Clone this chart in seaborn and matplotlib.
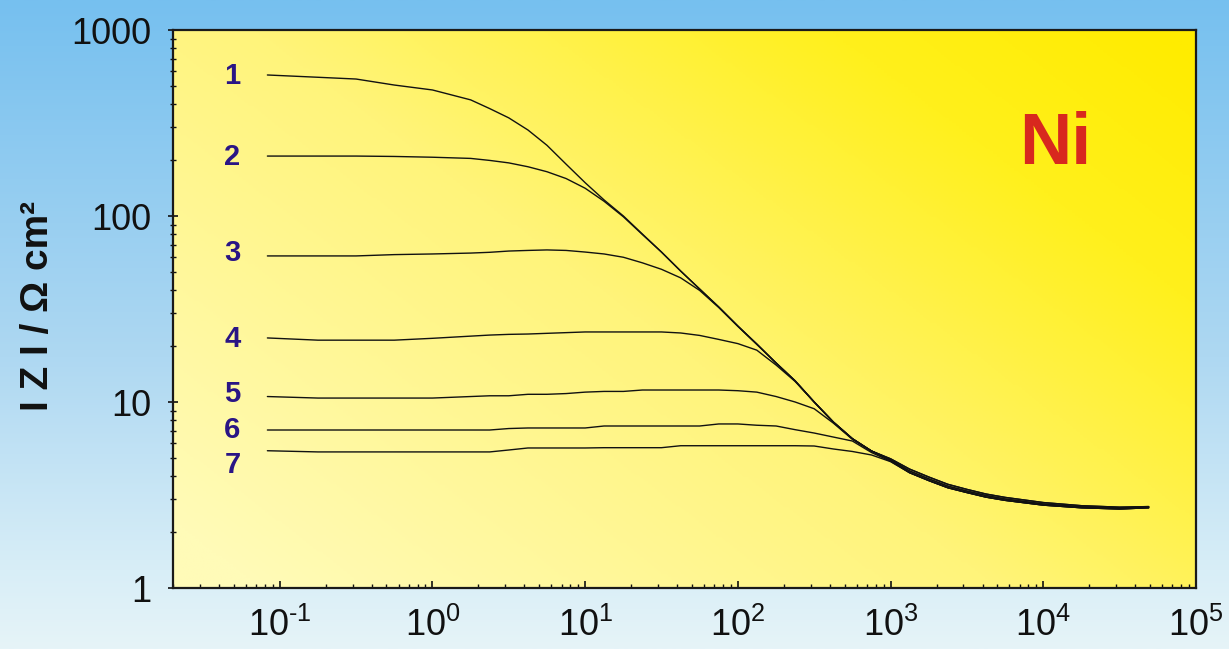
import numpy as np
import pandas as pd
import matplotlib
matplotlib.use("Agg")
import matplotlib.pyplot as plt
import seaborn as sns
from matplotlib.colors import LinearSegmentedColormap

# ---------------- data ----------------
freq = [0.083, 0.178, 0.316, 0.562, 1.0, 1.78, 2.37, 3.16, 4.22, 5.62, 7.50, 10.0,
        13.3, 17.8, 23.7, 31.6, 42.2, 56.2, 75.0, 100, 133, 178, 237, 316, 422, 562, 750,
        1000, 1330, 1780, 2370, 3160, 4220, 5620, 10000, 17800, 31600, 49000]

# high-frequency band (upper edge, centre, lower edge of the merged curves)
tail_hi = [4.36, 3.95, 3.61, 3.39, 3.20, 3.07, 2.88, 2.77, 2.72, 2.74]
tail_mid = [4.26, 3.86, 3.53, 3.32, 3.14, 3.01, 2.83, 2.73, 2.69, 2.72]
tail_lo = [4.17, 3.78, 3.46, 3.26, 3.08, 2.96, 2.79, 2.70, 2.66, 2.70]

z1 = [573, 557, 545, 506, 476, 421, 378, 337, 290, 240, 190, 151, 122, 100, 80, 64,
      50.6, 40.5, 32.4, 25.6, 20.5, 16.2, 13.0, 10.0, 7.8, 6.35, 5.45, 4.95] + tail_hi
z2 = [210, 210, 210, 209, 207, 204, 199, 193, 184, 173, 159, 141, 120, 99, 79.5, 64,
      50.6, 40.5, 32.4, 25.6, 20.5, 16.2, 13.0, 10.0, 7.8, 6.35, 5.45, 4.95] + tail_hi
z3 = [61, 61, 61, 62, 62.5, 63.2, 63.8, 64.8, 65.3, 65.7, 65.3, 64, 62.5, 60, 56, 51.7,
      46.5, 39.8, 32.2, 25.5, 20.4, 16.2, 13.0, 10.0, 7.8, 6.35, 5.45, 4.9] + tail_mid
z4 = [22.1, 21.5, 21.5, 21.5, 22.0, 22.6, 22.9, 23.1, 23.2, 23.4, 23.6, 23.8, 23.8, 23.8,
      23.8, 23.8, 23.5, 22.8, 21.7, 20.6, 19.0, 15.8, 12.9, 10.0, 7.8, 6.35, 5.45, 4.88] + tail_mid
z5 = [10.7, 10.5, 10.5, 10.5, 10.5, 10.7, 10.8, 10.8, 11.0, 11.0, 11.1, 11.3, 11.4, 11.4,
      11.6, 11.6, 11.6, 11.6, 11.6, 11.5, 11.3, 10.7, 10.0, 9.2, 7.7, 6.3, 5.45, 4.85] + tail_lo
z6 = [7.07, 7.07, 7.07, 7.07, 7.07, 7.07, 7.07, 7.2, 7.25, 7.25, 7.25, 7.25, 7.43, 7.43,
      7.43, 7.43, 7.43, 7.43, 7.62, 7.62, 7.5, 7.43, 7.1, 6.81, 6.48, 6.17, 5.35, 4.8] + tail_lo
z7 = [5.47, 5.39, 5.39, 5.39, 5.39, 5.39, 5.39, 5.52, 5.66, 5.66, 5.66, 5.66, 5.68, 5.68,
      5.68, 5.68, 5.82, 5.82, 5.82, 5.82, 5.82, 5.82, 5.82, 5.80, 5.59, 5.42, 5.19, 4.78] + tail_lo

curve_names = ["1", "2", "3", "4", "5", "6", "7"]
curves = [z1, z2, z3, z4, z5, z6, z7]

label_x = 0.049
label_y = [566, 207, 63, 21.8, 11.0, 7.07, 4.6]

x_ticks = [1e-1, 1e0, 1e1, 1e2, 1e3, 1e4, 1e5]
x_tick_labels = ["$\\mathregular{10^{\u20101}}$", r"$\mathregular{10^{0}}$", r"$\mathregular{10^{1}}$",
                 r"$\mathregular{10^{2}}$", r"$\mathregular{10^{3}}$", r"$\mathregular{10^{4}}$",
                 r"$\mathregular{10^{5}}$"]
y_ticks = [1, 10, 100, 1000]
y_tick_labels = ["1", "10", "100", "1000"]

rows = []
for name, zs in zip(curve_names, curves):
    for f, z in zip(freq, zs):
        rows.append({"freq": f, "Z": z, "curve": name})
df = pd.DataFrame(rows)

# ---------------- style ----------------
sns.set_style("ticks")
plt.rcParams["font.family"] = ["Liberation Sans", "DejaVu Sans"]
plt.rcParams["mathtext.fontset"] = "custom"
plt.rcParams["mathtext.rm"] = "Liberation Sans"
plt.rcParams["mathtext.it"] = "Liberation Sans:italic"
plt.rcParams["mathtext.bf"] = "Liberation Sans:bold"

W, H = 1229, 649
fig = plt.figure(figsize=(W / 100, H / 100), dpi=100)

# figure background: sky-blue vertical gradient
bg = fig.add_axes([0, 0, 1, 1], zorder=-3)
sky = LinearSegmentedColormap.from_list(
    "sky", [(0.0, "#e6f4f8"), (0.12, "#d8eef7"), (0.45, "#aed8f2"), (1.0, "#76c0ef")])
grad = np.linspace(0, 1, 256).reshape(-1, 1)
bg.imshow(grad, aspect="auto", cmap=sky, origin="lower", extent=[0, 1, 0, 1])
bg.set_xlim(0, 1)
bg.set_ylim(0, 1)
bg.axis("off")

# axes position
left, right, bottom, top = 173 / W, 1196 / W, 1 - 588 / H, 1 - 30 / H
pos = [left, bottom, right - left, top - bottom]

# yellow diagonal gradient in plot area
yel = fig.add_axes(pos, zorder=-2)
xx, yy = np.meshgrid(np.linspace(0, 1, 300), np.linspace(0, 1, 200))
t = np.clip(0.62 * xx + 0.45 * yy - 0.05, 0, 1)
ycmap = LinearSegmentedColormap.from_list(
    "yel", [(0.0, "#fffbb8"), (0.45, "#fff47a"), (0.8, "#fff01c"), (1.0, "#ffec00")])
yel.imshow(t, aspect="auto", cmap=ycmap, origin="lower", extent=[0, 1, 0, 1], vmin=0, vmax=1)
yel.set_xlim(0, 1)
yel.set_ylim(0, 1)
yel.axis("off")

ax = fig.add_axes(pos, zorder=1)
ax.set_facecolor("none")
ax.set_xscale("log")
ax.set_yscale("log")

sns.lineplot(data=df, x="freq", y="Z", hue="curve", palette=["#111111"] * 7,
             legend=False, linewidth=1.0, estimator=None, sort=False, ax=ax)

ax.set_xlim(0.02, 1e5)
ax.set_ylim(1, 1000)

ax.set_xticks(x_ticks, x_tick_labels)
ax.set_yticks(y_ticks, y_tick_labels)
ax.xaxis.set_minor_locator(matplotlib.ticker.LogLocator(base=10, subs=np.arange(2, 10), numticks=20))
ax.yaxis.set_minor_locator(matplotlib.ticker.LogLocator(base=10, subs=np.arange(2, 10), numticks=20))
ax.xaxis.set_minor_formatter(matplotlib.ticker.NullFormatter())
ax.yaxis.set_minor_formatter(matplotlib.ticker.NullFormatter())

ax.tick_params(axis="x", which="major", direction="in", length=5, width=1.2,
               labelsize=26, pad=14, colors="#111111")
ax.tick_params(axis="x", which="minor", direction="in", length=3, width=1.0, colors="#111111")
ax.tick_params(axis="y", which="major", direction="inout", length=7, width=1.2,
               labelsize=26, pad=12, colors="#111111")
ax.tick_params(axis="y", which="minor", direction="inout", length=5, width=1.0, colors="#111111")
ax.tick_params(top=False, right=False)

for sp in ax.spines.values():
    sp.set_visible(True)
    sp.set_color("#1a1a1a")
    sp.set_linewidth(1.6)

ax.set_xlabel("")
ax.set_ylabel("")

for name, ly in zip(curve_names, label_y):
    ax.text(label_x, ly, name, ha="center", va="center", fontsize=21,
            fontweight="bold", color="#2a1585")

ax.text(0.862, 0.794, "Ni", transform=ax.transAxes, ha="center", va="center",
        fontsize=52, fontweight="bold", color="#d8281e")

fig.text(38 / W, 1 - 306 / H, "I Z I / Ω cm²", rotation=90, ha="center", va="center",
         fontsize=28, fontweight="bold", color="#111111")

fig.savefig("out.png", dpi=100)
